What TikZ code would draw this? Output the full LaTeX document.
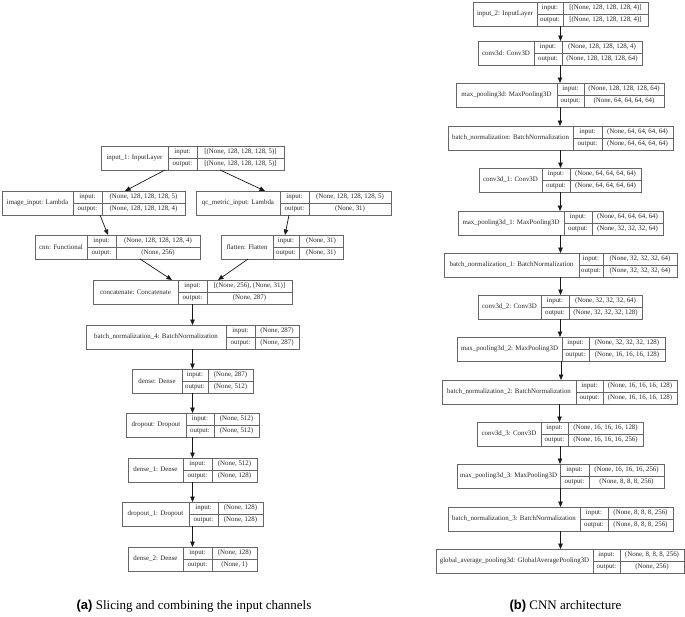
\documentclass[tikz,border=0pt]{standalone}
\usepackage{fontspec}
\setmainfont{Liberation Serif}
\setsansfont{Liberation Sans}
\usetikzlibrary{arrows.meta}
\tikzset{
  every picture/.style={x=1pt, y=-1pt, line width=0.8pt},
  layer/.style={draw=black!60, inner sep=0pt, outer sep=0pt, minimum height=24pt, anchor=north west},
  cell/.style={draw=black!60},
  txt/.style={font=\fontsize{6.9}{8}\selectfont, text=black!85, inner sep=0pt},
  arrow/.style={-{Triangle[length=5.5pt, width=4.5pt]}, draw=black!90, line width=0.7pt},
  caption/.style={font=\fontsize{13}{15}\selectfont, inner sep=0pt},
}
% one keras layer: name, left, divider 1, divider 2, right, top, layer text, input, output
\newcommand{\kerasnode}[9]{%
  \node[layer, minimum width={(#5-#2)*1pt}] (#1) at (#2,#6) {};
  \draw[cell] (#3,#6) -- (#3,{#6+24}) (#4,#6) -- (#4,{#6+24}) (#3,{#6+12}) -- (#5,{#6+12});
  \node[txt] at ({(#2+#3)/2},{#6+12}) {#7};
  \node[txt] at ({(#3+#4)/2},{#6+6}) {input:};
  \node[txt] at ({(#3+#4)/2},{#6+18}) {output:};
  \node[txt] at ({(#4+#5)/2},{#6+6}) {#8};
  \node[txt] at ({(#4+#5)/2},{#6+18}) {#9};
}

\begin{document}
\begin{tikzpicture}
  \useasboundingbox (0,0) rectangle (685,616);
  % panel a: slicing the input
  \kerasnode{in1}{101}{168}{197}{284}{146}{input\_1: InputLayer}{[(None, 128, 128, 128, 5)]}{[(None, 128, 128, 128, 5)]}
  \kerasnode{img}{2}{73}{102}{185}{191}{image\_input: Lambda}{(None, 128, 128, 128, 5)}{(None, 128, 128, 128, 4)}
  \kerasnode{qc}{196}{280}{309}{391}{191}{qc\_metric\_input: Lambda}{(None, 128, 128, 128, 5)}{(None, 31)}
  \kerasnode{cnn}{35}{87}{116}{200}{235}{cnn: Functional}{(None, 128, 128, 128, 4)}{(None, 256)}
  \kerasnode{flat}{221}{273}{299}{343}{235}{flatten: Flatten}{(None, 31)}{(None, 31)}
  \kerasnode{cat}{93}{178}{207}{292}{280}{concatenate: Concatenate}{[(None, 256), (None, 31)]}{(None, 287)}
  \kerasnode{bn4}{86}{226}{255}{299}{325}{batch\_normalization\_4: BatchNormalization}{(None, 287)}{(None, 287)}
  \kerasnode{d0}{132}{182}{208}{253}{369}{dense: Dense}{(None, 287)}{(None, 512)}
  \kerasnode{do0}{126}{186}{214}{259}{413}{dropout: Dropout}{(None, 512)}{(None, 512)}
  \kerasnode{d1}{128}{183}{212}{257}{458}{dense\_1: Dense}{(None, 512)}{(None, 128)}
  \kerasnode{do1}{122}{189}{218}{263}{502}{dropout\_1: Dropout}{(None, 128)}{(None, 128)}
  \kerasnode{d2}{128}{183}{212}{257}{547}{dense\_2: Dense}{(None, 128)}{(None, 1)}
  \draw[arrow] ([xshift=-27.5pt]in1.south) -- ([xshift=31.5pt]img.north);
  \draw[arrow] ([xshift=27.5pt]in1.south) -- ([xshift=-28.5pt]qc.north);
  \draw[arrow] ([xshift=6.5pt]img.south) -- ([xshift=-9.5pt]cnn.north);
  \draw[arrow] ([xshift=-4.5pt]qc.south) -- ([xshift=3pt]flat.north);
  \draw[arrow] ([xshift=22.5pt]cnn.south) -- ([xshift=-20.5pt]cat.north);
  \draw[arrow] ([xshift=-34pt]flat.south) -- ([xshift=25.5pt]cat.north);
  \foreach \a/\b in {cat/bn4, bn4/d0, d0/do0, do0/d1, d1/do1, do1/d2}
    \draw[arrow] (\a.south) -- (\a.south |- \b.north);
  \node[caption] (capa) at (194,606) {\textsf{\bfseries (a)} Slicing and combining the input channels};
  % panel b: the cnn
  \kerasnode{in2}{473}{537}{563}{648}{2}{input\_2: InputLayer}{[(None, 128, 128, 128, 4)]}{[(None, 128, 128, 128, 4)]}
  \kerasnode{c0}{478}{534}{562}{642}{41}{conv3d: Conv3D}{(None, 128, 128, 128, 4)}{(None, 128, 128, 128, 64)}
  \kerasnode{p0}{456}{557}{584}{664}{83}{max\_pooling3d: MaxPooling3D}{(None, 128, 128, 128, 64)}{(None, 64, 64, 64, 64)}
  \kerasnode{b0}{448}{573}{602}{673}{126}{batch\_normalization: BatchNormalization}{(None, 64, 64, 64, 64)}{(None, 64, 64, 64, 64)}
  \kerasnode{c1}{479}{542}{570}{641}{168}{conv3d\_1: Conv3D}{(None, 64, 64, 64, 64)}{(None, 64, 64, 64, 64)}
  \kerasnode{p1}{458}{564}{592}{663}{211}{max\_pooling3d\_1: MaxPooling3D}{(None, 64, 64, 64, 64)}{(None, 32, 32, 32, 64)}
  \kerasnode{b1}{444}{579}{603}{677}{253}{batch\_normalization\_1: BatchNormalization}{(None, 32, 32, 32, 64)}{(None, 32, 32, 32, 64)}
  \kerasnode{c2}{478}{541}{569}{642}{295}{conv3d\_2: Conv3D}{(None, 32, 32, 32, 64)}{(None, 32, 32, 32, 128)}
  \kerasnode{p2}{457}{562}{589}{665}{337}{max\_pooling3d\_2: MaxPooling3D}{(None, 32, 32, 32, 128)}{(None, 16, 16, 16, 128)}
  \kerasnode{b2}{442}{576}{603}{677}{380}{batch\_normalization\_2: BatchNormalization}{(None, 16, 16, 16, 128)}{(None, 16, 16, 16, 128)}
  \kerasnode{c3}{477}{541}{568}{643}{422}{conv3d\_3: Conv3D}{(None, 16, 16, 16, 128)}{(None, 16, 16, 16, 256)}
  \kerasnode{p3}{457}{560}{589}{664}{464}{max\_pooling3d\_3: MaxPooling3D}{(None, 16, 16, 16, 256)}{(None, 8, 8, 8, 256)}
  \kerasnode{b3}{448}{580}{608}{673}{507}{batch\_normalization\_3: BatchNormalization}{(None, 8, 8, 8, 256)}{(None, 8, 8, 8, 256)}
  \kerasnode{gap}{436}{593}{620}{684}{549}{global\_average\_pooling3d: GlobalAveragePooling3D}{(None, 8, 8, 8, 256)}{(None, 256)}
  \foreach \a/\b in {in2/c0, c0/p0, p0/b0, b0/c1, c1/p1, p1/b1, b1/c2, c2/p2, p2/b2, b2/c3, c3/p3, p3/b3, b3/gap}
    \draw[arrow] (\a.south) -- (\a.south |- \b.north);
  \node[caption] (capb) at (565.5,606) {\textsf{\bfseries (b)} CNN architecture};
\end{tikzpicture}
\end{document}
